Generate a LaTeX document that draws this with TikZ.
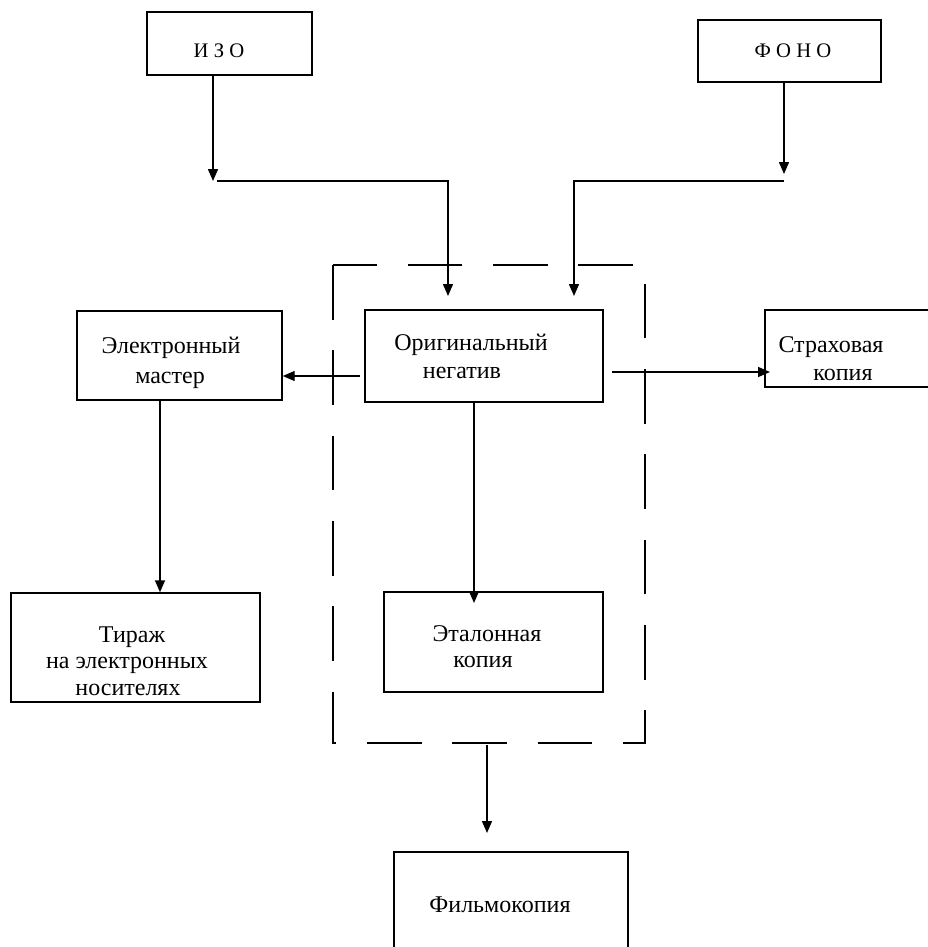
\documentclass[tikz,border=0pt]{standalone}
\usepackage{fontspec}
\setmainfont{Liberation Serif}
\usetikzlibrary{arrows.meta,fit}
\begin{document}
\begin{tikzpicture}[x=0.75pt,y=-0.75pt,
  box/.style={draw, line width=1.1pt, inner sep=0pt},
  lbl/.style={font=\fontsize{18}{21.6}\selectfont, inner sep=0pt, anchor=base},
  small/.style={font=\fontsize{15.5}{19}\selectfont, inner sep=0pt, anchor=base},
  arr/.style={line width=1.1pt, -{Triangle[length=9pt,width=7.5pt]}},
  frame/.style={line width=1.1pt, dash pattern=on 41pt off 23pt}]
\useasboundingbox (0,0) rectangle (928,947);
\clip (0,0) rectangle (928,947);

% boxes
\node[box, fit={(147,12) (312,75)}] (izo) {};
\node[box, fit={(698,20) (881,82)}] (fono) {};
\node[box, fit={(77,311) (282,400)}] (elec) {};
\node[box, fit={(365,310) (603,402)}] (orig) {};
\node[box, fit={(765,310) (960,387)}] (strah) {};
\node[box, fit={(11,593) (260,702)}] (tiraz) {};
\node[box, fit={(384,592) (603,692)}] (etal) {};
\node[box, fit={(394,852) (628,990)}] (film) {};

% dashed frame
\draw[frame] (333,265) rectangle (645,743);

% labels
\node[small] (tizo) at (219,57) {И З О};
\node[small] (tfono) at (793,57) {Ф О Н О};
\node[lbl] (telec1) at (171,353) {Электронный};
\node[lbl] (telec2) at (170,383) {мастер};
\node[lbl] (torig1) at (471,350) {Оригинальный};
\node[lbl] (torig2) at (462,378) {негатив};
\node[lbl] (tstrah1) at (831,352) {Страховая};
\node[lbl] (tstrah2) at (843,380) {копия};
\node[lbl] (ttir1) at (132,642) {Тираж};
\node[lbl] (ttir2) at (127,668) {на электронных};
\node[lbl] (ttir3) at (128,695) {носителях};
\node[lbl] (tetal1) at (487,641) {Эталонная};
\node[lbl] (tetal2) at (483,667) {копия};
\node[lbl] (tfilm) at (500,912) {Фильмокопия};

% connector points
\coordinate (c1) at (213,181);
\coordinate (c2) at (217,181);
\coordinate (t1) at (448,296);
\coordinate (c3) at (784,174);
\coordinate (c4) at (784,181);
\coordinate (t2) at (574,296);
\coordinate (s3) at (360,376);
\coordinate (s4) at (612,372);
\coordinate (e4) at (770,372);
\coordinate (x1) at (160,0);
\coordinate (x2) at (474,603);
\coordinate (s5) at (487,745);
\coordinate (e5) at (487,833);

% connectors
\draw[arr] (c1 |- izo.south) -- (c1);
\draw[arr] (c2) -| (t1);
\draw[arr] (c3 |- fono.south) -- (c3);
\draw[arr] (c4) -| (t2);
\draw[arr] (s3) -- (s3 -| elec.east);
\draw[arr] (s4) -- (e4);
\draw[arr] (x1 |- elec.south) -- (x1 |- tiraz.north);
\draw[arr] (x2 |- orig.south) -- (x2);
\draw[arr] (s5) -- (e5);
\end{tikzpicture}
\end{document}
